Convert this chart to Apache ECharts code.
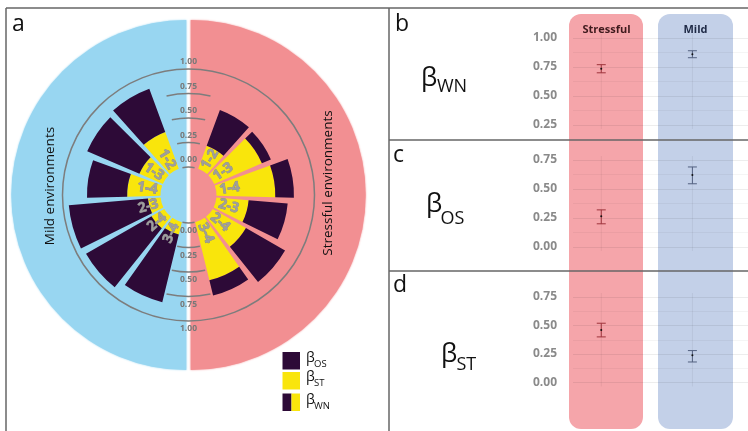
<!DOCTYPE html>
<html>
<head>
<meta charset="utf-8">
<script src="https://cdn.jsdelivr.net/npm/echarts@6/dist/echarts.min.js"></script>
<style>
html, body { margin: 0; padding: 0; background: #fff; }
#chart { width: 748px; height: 431px; }
</style>
</head>
<body>
<div id="chart"></div>
<script>
// panel a: pairwise values, stacked beta_ST (inner) + beta_OS (outer) = beta_WN
var pairs = ['1-2', '1-3', '1-4', '2-3', '2-4', '3-4'];
var stressST = [0.25, 0.53, 0.60, 0.33, 0.39, 0.61];
var stressOS = [0.39, 0.10, 0.19, 0.40, 0.46, 0.16];
var mildST = [0.40, 0.26, 0.34, 0.13, 0.15, 0.13];
var mildOS = [0.47, 0.58, 0.41, 0.81, 0.77, 0.71];
var ringTicks = [0, 0.25, 0.5, 0.75, 1];

// panels b-d: mean with interval per environment
var envs = ['Stressful', 'Mild'];
var wnMean = [0.735, 0.86], wnLow = [0.70, 0.83], wnHigh = [0.77, 0.89];
var osMean = [0.265, 0.62], osLow = [0.20, 0.545], osHigh = [0.32, 0.69];
var stMean = [0.46, 0.24], stLow = [0.40, 0.18], stHigh = [0.52, 0.28];

var FONT = '"Open Sans", "DejaVu Sans", sans-serif';
var purple = '#2d0a37', yellow = '#f9e50c';
var firstAngle = 31, stepAngle = 24.9, barAngle = 21.5, labelR = 0.14, arcHalf = 12.5;
var errColors = ['#9e333b', '#52607f'];

var chart = echarts.init(document.getElementById('chart'));

function polarPt(api, cs, v, a) {
  var p = api.coord([v, a]);
  var dx = p[0] - cs.cx, dy = p[1] - cs.cy;
  return { x: p[0], y: p[1], r: Math.sqrt(dx * dx + dy * dy), ang: Math.atan2(dy, dx) };
}

function sector(api, cs, v0, v1, a0, a1, color) {
  var p0 = polarPt(api, cs, v0, a0), p1 = polarPt(api, cs, v1, a1);
  var end = p1.ang;
  if (end < p0.ang) end += Math.PI * 2;
  return {
    type: 'sector',
    shape: { cx: cs.cx, cy: cs.cy, r0: p0.r, r: p1.r, startAngle: p0.ang, endAngle: end, clockwise: true },
    style: { fill: color }
  };
}

function renderBars(params, api) {
  var cs = params.coordSys;
  var i = api.value(0), side = api.value(1), st = api.value(2), os = api.value(3);
  var c = firstAngle + stepAngle * i;
  var rot = (90 - c) * Math.PI / 180;
  if (side === 1) { rot = (c - 90) * Math.PI / 180; c = 360 - c; }
  var lp = polarPt(api, cs, labelR, c);
  return {
    type: 'group',
    children: [
      sector(api, cs, 0, st, c - barAngle / 2, c + barAngle / 2, yellow),
      sector(api, cs, st, st + os, c - barAngle / 2, c + barAngle / 2, purple),
      {
        type: 'text', x: lp.x, y: lp.y, rotation: rot, z2: 10,
        style: {
          text: pairs[i], fill: '#9e9e9e', stroke: '#8a8a8a', lineWidth: 0.7,
          font: 'bold 14px ' + FONT, align: 'center', verticalAlign: 'middle'
        }
      }
    ]
  };
}

function renderScale(params, api) {
  var cs = params.coordSys;
  var v = api.value(0);
  var txt = v.toFixed(2);
  var top = polarPt(api, cs, v, 0), bot = polarPt(api, cs, v, 180);
  var ls = { fill: 'none', stroke: '#7d7d7d', lineWidth: 1.5 };
  var kids = [];
  if (v >= 1) {
    kids.push({ type: 'circle', shape: { cx: cs.cx, cy: cs.cy, r: top.r }, style: ls });
  } else {
    var t0 = polarPt(api, cs, v, 360 - arcHalf), t1 = polarPt(api, cs, v, arcHalf);
    var b0 = polarPt(api, cs, v, 180 - arcHalf), b1 = polarPt(api, cs, v, 180 + arcHalf);
    kids.push({ type: 'arc', shape: { cx: cs.cx, cy: cs.cy, r: top.r, startAngle: t0.ang, endAngle: t1.ang, clockwise: true }, style: ls });
    kids.push({ type: 'arc', shape: { cx: cs.cx, cy: cs.cy, r: bot.r, startAngle: b0.ang, endAngle: b1.ang, clockwise: true }, style: ls });
  }
  var ts = { text: txt, fill: '#787878', font: 'bold 8.5px ' + FONT, align: 'center', verticalAlign: 'middle' };
  kids.push({ type: 'text', x: top.x, y: top.y - 7, style: ts });
  kids.push({ type: 'text', x: bot.x, y: bot.y + 8, style: ts });
  return { type: 'group', children: kids };
}

function renderErr(params, api) {
  var cs = params.coordSys;
  var i = api.value(0);
  var mid = api.coord([i, api.value(1)]);
  var lo = api.coord([i, api.value(2)]);
  var hi = api.coord([i, api.value(3)]);
  var col = errColors[i];
  var st = { stroke: col, lineWidth: 1 };
  return {
    type: 'group',
    children: [
      { type: 'line', shape: { x1: mid[0], y1: cs.y - 4, x2: mid[0], y2: cs.y + cs.height + 4 }, style: { stroke: 'rgba(0,0,0,0.06)', lineWidth: 1 } },
      { type: 'line', shape: { x1: lo[0], y1: lo[1], x2: hi[0], y2: hi[1] }, style: st },
      { type: 'line', shape: { x1: lo[0] - 4.5, y1: lo[1], x2: lo[0] + 4.5, y2: lo[1] }, style: st },
      { type: 'line', shape: { x1: hi[0] - 4.5, y1: hi[1], x2: hi[0] + 4.5, y2: hi[1] }, style: st },
      { type: 'circle', shape: { cx: mid[0], cy: mid[1], r: 1 }, style: { fill: '#111' } }
    ]
  };
}

var barData = [];
pairs.forEach(function (p, i) {
  barData.push([i, 0, stressST[i], stressOS[i]]);
  barData.push([i, 1, mildST[i], mildOS[i]]);
});

var panels = [
  { top: 38, height: 87, min: 0.25, max: 1, mean: wnMean, low: wnLow, high: wnHigh },
  { top: 160, height: 87, min: 0, max: 0.75, mean: osMean, low: osLow, high: osHigh },
  { top: 297, height: 85.5, min: 0, max: 0.75, mean: stMean, low: stLow, high: stHigh }
];

var grids = [], xAxes = [], yAxes = [], errSeries = [];
panels.forEach(function (p, k) {
  grids.push({ left: 573, right: 0, top: p.top, height: p.height });
  xAxes.push({ gridIndex: k, type: 'value', min: -0.31, max: 1.61, show: false });
  yAxes.push({
    gridIndex: k, type: 'value', min: p.min, max: p.max, interval: 0.25,
    axisLine: { show: false }, axisTick: { show: false },
    axisLabel: { formatter: function (v) { return v.toFixed(2); }, color: '#8a8a8a', fontWeight: 'bold', fontSize: 12, fontFamily: FONT, margin: 16 },
    splitLine: { lineStyle: { color: 'rgba(0,0,0,0.07)' } },
    minorTick: { show: false, splitNumber: 2 },
    minorSplitLine: { show: true, lineStyle: { color: 'rgba(0,0,0,0.04)' } }
  });
  errSeries.push({
    type: 'custom', xAxisIndex: k, yAxisIndex: k, renderItem: renderErr,
    encode: { x: 0, y: [1, 2, 3] },
    data: envs.map(function (e, j) { return [j, p.mean[j], p.low[j], p.high[j]]; })
  });
});

function frameLine(x1, y1, x2, y2) {
  return { type: 'line', z: 100, shape: { x1: x1, y1: y1, x2: x2, y2: y2 }, style: { stroke: '#666', lineWidth: 1.5 } };
}
function txt(x, y, s, size, extra) {
  var st = { text: s, fill: '#111', font: size + 'px ' + FONT, align: 'left', verticalAlign: 'middle' };
  for (var k in extra || {}) st[k] = extra[k];
  return { type: 'text', z: 100, x: x, y: y, style: st };
}

var graphics = [
  { type: 'sector', z: -1, shape: { cx: 186.3, cy: 195, r: 175, startAngle: Math.PI / 2, endAngle: Math.PI * 1.5 }, style: { fill: '#98d6f1', shadowBlur: 2, shadowColor: '#98d6f1' } },
  { type: 'sector', z: -1, shape: { cx: 190.7, cy: 195, r: 175, startAngle: -Math.PI / 2, endAngle: Math.PI / 2 }, style: { fill: '#f28f92', shadowBlur: 2, shadowColor: '#f28f92' } },
  { type: 'rect', z: -1, shape: { x: 569, y: 14, width: 74, height: 415, r: 12 }, style: { fill: '#f5a5aa' } },
  { type: 'rect', z: -1, shape: { x: 658, y: 14, width: 75, height: 415, r: 12 }, style: { fill: '#c3d0e8' } },
  frameLine(6, 8, 748, 8), frameLine(6, 8, 6, 431), frameLine(389, 8, 389, 431),
  frameLine(389, 140, 748, 140), frameLine(389, 271, 748, 271),
  txt(12, 24, 'a', 23), txt(395, 24, 'b', 23), txt(393, 155, 'c', 23), txt(393, 285, 'd', 23),
  { type: 'text', z: 100, x: 50, y: 186, rotation: Math.PI / 2, style: { text: 'Mild environments', fill: '#111', font: '13.5px ' + FONT, align: 'center', verticalAlign: 'middle' } },
  { type: 'text', z: 100, x: 328, y: 183, rotation: Math.PI / 2, style: { text: 'Stressful environments', fill: '#111', font: '13.5px ' + FONT, align: 'center', verticalAlign: 'middle' } },
  txt(606.5, 30, 'Stressful', 11, { font: 'bold 11px ' + FONT, fill: '#3f1a1d', align: 'center' }),
  txt(695.5, 30, 'Mild', 11, { font: 'bold 11px ' + FONT, fill: '#1e2945', align: 'center' }),
  // big beta labels
  txt(421, 79, '\u03b2', 26), txt(437, 87, 'WN', 18),
  txt(426, 205, '\u03b2', 26), txt(440.5, 219, 'OS', 18),
  txt(441, 355, '\u03b2', 26), txt(456.5, 365, 'ST', 18),
  // legend
  { type: 'rect', z: 100, shape: { x: 282.5, y: 352, width: 17.5, height: 17.5 }, style: { fill: purple } },
  { type: 'rect', z: 100, shape: { x: 282.5, y: 372, width: 17.5, height: 17.5 }, style: { fill: yellow } },
  { type: 'rect', z: 100, shape: { x: 282.5, y: 393.5, width: 9, height: 17.5 }, style: { fill: purple } },
  { type: 'rect', z: 100, shape: { x: 291.5, y: 393.5, width: 8.5, height: 17.5 }, style: { fill: yellow } },
  txt(306, 358.5, '\u03b2', 14), txt(314, 364, 'OS', 9.5),
  txt(306, 377.5, '\u03b2', 14), txt(314, 383, 'ST', 9.5),
  txt(306, 400.5, '\u03b2', 14), txt(314, 406, 'WN', 9.5)
];

var option = {
  backgroundColor: '#fff',
  animation: false,
  polar: { center: [188.5, 195], radius: [28, 126] },
  angleAxis: { type: 'value', min: 0, max: 360, startAngle: 90, clockwise: true, show: false },
  radiusAxis: { type: 'value', min: 0, max: 1, show: false },
  grid: grids,
  xAxis: xAxes,
  yAxis: yAxes,
  graphic: graphics,
  series: [
    { type: 'custom', coordinateSystem: 'polar', renderItem: renderScale, data: ringTicks.map(function (v) { return [v, 0]; }) },
    { type: 'custom', coordinateSystem: 'polar', renderItem: renderBars, data: barData }
  ].concat(errSeries)
};

chart.setOption(option);
</script>
</body>
</html>
